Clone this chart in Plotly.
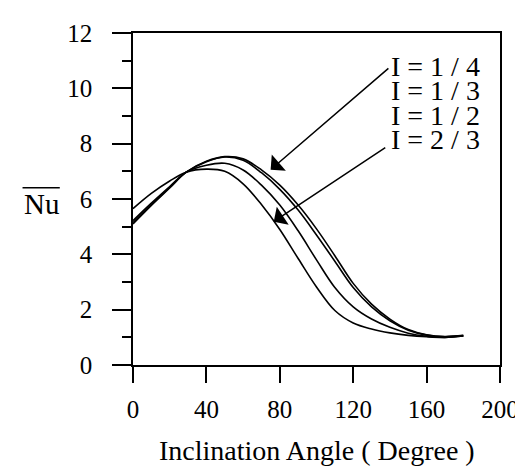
import plotly.graph_objects as go

angles = [0, 10, 20, 29, 40, 50, 60, 70, 80, 90, 100, 110, 120, 130, 140, 150, 160, 170, 180]
nu_i_1_4 = [5.10, 5.77, 6.40, 6.97, 7.36, 7.53, 7.45, 7.05, 6.50, 5.78, 4.92, 3.95, 2.95, 2.20, 1.66, 1.28, 1.09, 1.03, 1.07]
nu_i_1_3 = [5.15, 5.80, 6.42, 6.97, 7.35, 7.52, 7.40, 6.95, 6.35, 5.60, 4.70, 3.75, 2.80, 2.10, 1.60, 1.26, 1.08, 1.02, 1.06]
nu_i_1_2 = [5.22, 5.85, 6.45, 6.97, 7.22, 7.29, 7.05, 6.50, 5.78, 4.85, 3.80, 2.80, 2.10, 1.66, 1.36, 1.15, 1.04, 1.00, 1.05]
nu_i_2_3 = [5.65, 6.20, 6.65, 6.97, 7.08, 7.00, 6.55, 5.80, 4.90, 3.85, 2.82, 1.97, 1.52, 1.30, 1.16, 1.07, 1.02, 1.00, 1.05]

labels = ["I = 1 / 4", "I = 1 / 3", "I = 1 / 2", "I = 2 / 3"]
label_y = [10.80, 9.92, 9.03, 8.15]
label_x = 139.5

x_ticks = [0, 40, 80, 120, 160, 200]
y_ticks = [0, 2, 4, 6, 8, 10, 12]

FONT = "Liberation Serif"

fig = go.Figure()
for series, name in zip([nu_i_1_4, nu_i_1_3, nu_i_1_2, nu_i_2_3], labels):
    fig.add_trace(go.Scatter(x=angles, y=series, mode="lines", name=name,
                             line=dict(color="black", width=1.6, shape="spline", smoothing=1.0),
                             showlegend=False))

for t, yy in zip(labels, label_y):
    fig.add_annotation(x=label_x, y=yy, xref="x", yref="y", text=t, showarrow=False,
                       xanchor="left", yanchor="middle",
                       font=dict(family=FONT, size=28, color="black"))

# arrows
fig.add_annotation(x=75, y=7.06, ax=140, ay=10.77, xref="x", yref="y", axref="x", ayref="y",
                   text="", showarrow=True, arrowhead=1, arrowsize=2.4, arrowwidth=1.5, arrowcolor="black")
fig.add_annotation(x=76.7, y=5.18, ax=138.3, ay=7.89, xref="x", yref="y", axref="x", ayref="y",
                   text="", showarrow=True, arrowhead=1, arrowsize=2.4, arrowwidth=1.5, arrowcolor="black")

# y-axis label with overline
fig.add_annotation(x=-0.25, y=0.484, xref="paper", yref="paper", text="Nu", showarrow=False,
                   xanchor="center", yanchor="middle",
                   font=dict(family=FONT, size=29, color="black"))
fig.add_shape(type="line", xref="paper", yref="paper", x0=-0.301, x1=-0.1995, y0=0.534, y1=0.534,
              line=dict(color="black", width=1.5))

# x-axis title
fig.add_annotation(x=0.5, y=-0.258, xref="paper", yref="paper", text="Inclination Angle ( Degree )",
                   showarrow=False, xanchor="center", yanchor="middle",
                   font=dict(family=FONT, size=28, color="black"))

fig.update_xaxes(range=[0, 200], tickvals=x_ticks, ticks="outside", ticklen=16, tickwidth=1.5,
                 tickcolor="black", showline=True, linecolor="black", linewidth=1.5, mirror=True,
                 showgrid=False, zeroline=False, ticklabelstandoff=5,
                 tickfont=dict(family=FONT, size=25, color="black"))
fig.update_yaxes(range=[0, 12], tickvals=y_ticks, ticks="outside", ticklen=19, tickwidth=1.5,
                 tickcolor="black", showline=True, linecolor="black", linewidth=1.5, mirror=True,
                 showgrid=False, zeroline=False, ticklabelstandoff=15,
                 tickfont=dict(family=FONT, size=25, color="black"),
                 minor=dict(dtick=1, ticks="outside", ticklen=9, tickwidth=1.5, tickcolor="black",
                            showgrid=False))

fig.update_layout(width=523, height=468, margin=dict(l=125, r=22, t=17, b=111),
                  paper_bgcolor="white", plot_bgcolor="white")

fig.write_html("out.html")
